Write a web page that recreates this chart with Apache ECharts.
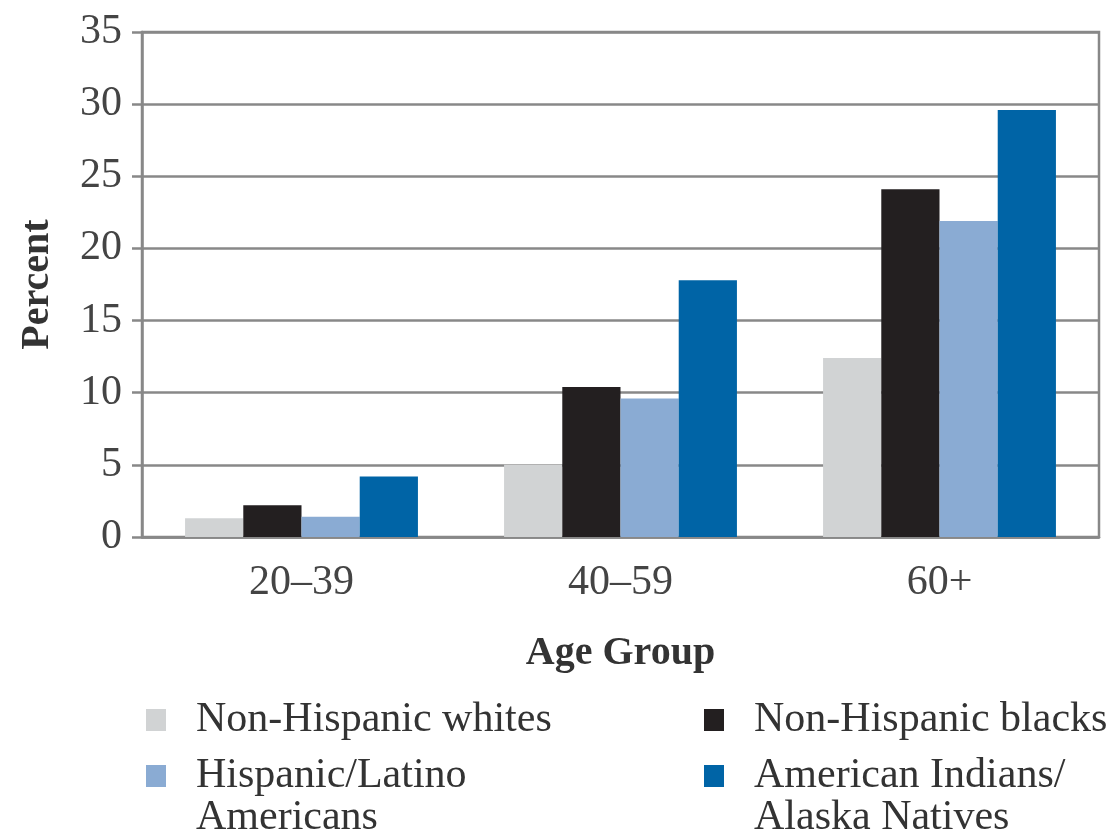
<!DOCTYPE html>
<html lang="en">
<head>
    <meta charset="UTF-8">
    <title>Percent by Age Group</title>
    <script src="https://cdn.jsdelivr.net/npm/echarts@6/dist/echarts.min.js"></script>
    <style>
        body { margin: 0; background: #fff; }
    </style>
</head>
<body>
<div id="chart" style="width: 1113px;height:836px"></div>
<script>
    var chartDom = document.getElementById('chart');
    var myChart = echarts.init(chartDom);

    // data
    var categories = ['20–39', '40–59', '60+'];
    var yTicks = [0, 5, 10, 15, 20, 25, 30, 35];
    var whites = [1.3, 5.0, 12.4];
    var blacks = [2.2, 10.4, 24.1];
    var hispanic = [1.4, 9.6, 21.9];
    var aian = [4.2, 17.8, 29.6];
    var names = ['Non-Hispanic whites', 'Non-Hispanic blacks', 'Hispanic/Latino Americans', 'American Indians/Alaska Natives'];
    // legend wording; the empty first line keeps the swatch level with the first line of text
    var legendText = {
        'Non-Hispanic whites': 'Non-Hispanic whites',
        'Non-Hispanic blacks': 'Non-Hispanic blacks',
        'Hispanic/Latino Americans': '\nHispanic/Latino\nAmericans',
        'American Indians/Alaska Natives': '\nAmerican Indians/\nAlaska Natives'
    };
    var colors = ['#d1d3d4', '#231f20', '#8aabd3', '#0064a6'];

    var font = 'Liberation Serif';
    var gridGray = '#888888';

    function legendAt(name, left, top) {
        return {
            data: [name],
            left: left,
            top: top,
            padding: 0,
            icon: 'rect',
            itemWidth: 20,
            itemHeight: 22,
            selectedMode: false,
            formatter: function (n) { return legendText[n]; },
            textStyle: {
                fontFamily: font,
                fontSize: 42,
                lineHeight: 42,
                color: '#333',
                padding: [0, 0, 0, 25]
            }
        };
    }

    function bar(name, data, color) {
        return {
            name: name,
            type: 'bar',
            barGap: 0,
            barCategoryGap: '27%',
            itemStyle: { color: color },
            data: data
        };
    }

    var option = {
        backgroundColor: '#ffffff',
        animation: false,
        grid: {
            left: 142,
            right: 14,
            top: 32,
            bottom: 299,
            show: true,
            borderColor: gridGray,
            borderWidth: 2.5
        },
        legend: [
            legendAt(names[0], 146, 699),
            legendAt(names[1], 704, 699),
            legendAt(names[2], 146, 713),
            legendAt(names[3], 704, 713)
        ],
        xAxis: {
            type: 'category',
            data: categories,
            name: 'Age Group',
            nameLocation: 'middle',
            nameGap: 97,
            nameTextStyle: {
                fontFamily: font,
                fontSize: 40,
                fontWeight: 'bold',
                color: '#333'
            },
            axisLine: { lineStyle: { color: gridGray, width: 2.5 } },
            axisTick: { length: 10, lineStyle: { color: gridGray, width: 2.5 } },
            axisLabel: {
                fontFamily: font,
                fontSize: 42,
                color: '#444',
                margin: 25
            }
        },
        yAxis: {
            type: 'value',
            min: yTicks[0],
            max: yTicks[yTicks.length - 1],
            interval: 5,
            name: 'Percent',
            nameLocation: 'middle',
            nameGap: 84,
            nameTextStyle: {
                fontFamily: font,
                fontSize: 40,
                fontWeight: 'bold',
                color: '#333'
            },
            axisLine: { show: true, lineStyle: { color: gridGray, width: 2.5 } },
            axisTick: { show: true, length: 10, lineStyle: { color: gridGray, width: 2.5 } },
            axisLabel: {
                fontFamily: font,
                fontSize: 42,
                color: '#444',
                margin: 20
            },
            splitLine: { lineStyle: { color: gridGray, width: 2.5 } }
        },
        series: [
            bar(names[0], whites, colors[0]),
            bar(names[1], blacks, colors[1]),
            bar(names[2], hispanic, colors[2]),
            bar(names[3], aian, colors[3])
        ]
    };

    option && myChart.setOption(option);
</script>
</body>
</html>
